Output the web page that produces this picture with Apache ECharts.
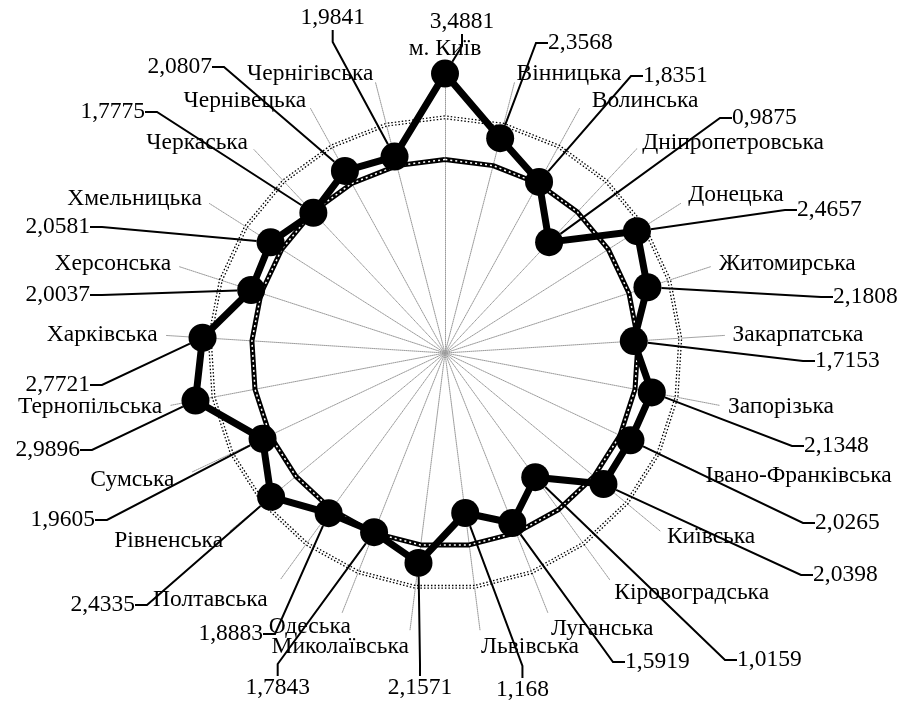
<!DOCTYPE html>
<html>
<head>
<meta charset="utf-8">
<script src="https://cdn.jsdelivr.net/npm/echarts@6/dist/echarts.min.js"></script>
<style>
  html, body { margin: 0; padding: 0; background: #fff; }
  #chart { width: 908px; height: 706px; }
</style>
</head>
<body>
<div id="chart"></div>
<script>
// regions, clockwise from the top
var regions = ['м. Київ', 'Вінницька', 'Волинська', 'Дніпропетровська', 'Донецька',
  'Житомирська', 'Закарпатська', 'Запорізька', 'Івано-Франківська', 'Київська',
  'Кіровоградська', 'Луганська', 'Львівська', 'Миколаївська', 'Одеська',
  'Полтавська', 'Рівненська', 'Сумська', 'Тернопільська', 'Харківська',
  'Херсонська', 'Хмельницька', 'Черкаська', 'Чернівецька', 'Чернігівська'];
var values = [3.4881, 2.3568, 1.8351, 0.9875, 2.4657,
  2.1808, 1.7153, 2.1348, 2.0265, 2.0398,
  1.0159, 1.5919, 1.168, 2.1571, 1.7843,
  1.8883, 2.4335, 1.9605, 2.9896, 2.7721,
  2.0037, 2.0581, 1.7775, 2.0807, 1.9841];
var innerLevel = 1.8;   // thick dotted ring
var outerLevel = 2.63;  // thin dotted ring
var axisMin = -2, axisMax = 3.5;

// where each value label sits: [x, y, align]
var labelPos = [
  [462, 22, 'center'], [543, 43, 'left'], [638, 76, 'left'], [727, 118, 'left'], [792, 210, 'left'],
  [828, 297, 'left'], [810, 361, 'left'], [799, 446, 'left'], [810, 523, 'left'], [808, 575, 'left'],
  [732, 660, 'left'], [620, 662, 'left'], [491, 690, 'left'], [420, 688, 'center'], [315, 688, 'right'],
  [268, 634, 'right'], [140, 605, 'right'], [100, 520, 'right'], [85, 450, 'right'], [95, 385, 'right'],
  [95, 295, 'right'], [95, 227, 'right'], [150, 112, 'right'], [217, 67, 'right'], [370, 18, 'right']
];
// small nudges of the region names: [dx, dy]
var nameShift = [
  [0, -4], [0, 0], [8, 0], [0, 0], [0, -4],
  [0, 0], [0, 0], [0, 0], [0, 0], [0, 0],
  [0, 7], [0, 8], [0, 8], [0, 8], [12, 6],
  [-8, 14], [0, 4], [-10, 4], [0, 0], [0, 0],
  [0, 0], [0, 0], [0, 0], [0, 0], [0, 0]
];

var font = '"Liberation Serif", "Times New Roman", serif';
var fontSize = 23.5;
function fmt(v) { return String(v).replace('.', ','); }
var valueText = values.map(fmt);

// echarts radar runs counter-clockwise, so feed it the reversed order
var order = [0];
for (var k = regions.length - 1; k > 0; k--) order.push(k);
function pick(arr) { return order.map(function (i) { return arr[i]; }); }
function level(v) { return regions.map(function () { return v; }); }

// one rich style per region name, padding does the nudging
var nameRich = {};
regions.forEach(function (n, i) {
  var dx = nameShift[i][0], dy = nameShift[i][1];
  var pad = [0, 0, 0, 0];
  if (i === 0) {
    if (dy < 0) pad[2] = -dy; else pad[0] = dy;
  } else {
    if (i <= 12) pad[3] = dx; else pad[1] = -dx;
    if (dy > 0) pad[0] = 2 * dy; else pad[2] = -2 * dy;
  }
  nameRich['n' + i] = { color: '#000', fontFamily: font, fontSize: fontSize, padding: pad };
});

var chart = echarts.init(document.getElementById('chart'));
var option = {
  animation: false,
  backgroundColor: '#fff',
  radar: {
    center: [445, 353],
    radius: 280,
    startAngle: 90,
    shape: 'polygon',
    splitNumber: 1,
    nameGap: 8,
    indicator: pick(regions).map(function (n) { return { name: n, min: axisMin, max: axisMax }; }),
    axisName: {
      color: '#000', fontFamily: font, fontSize: fontSize,
      formatter: function (name) { return '{n' + regions.indexOf(name) + '|' + name + '}'; },
      rich: nameRich
    },
    axisLine: { lineStyle: { color: '#9a9a9a', type: 'dotted', width: 1 } },
    splitLine: { show: false },
    splitArea: { show: false }
  },
  series: [
    {
      type: 'radar', silent: true, symbol: 'none', z: 2,
      data: [{ value: level(outerLevel), lineStyle: { color: '#000', width: 4, type: [1.5, 2] } }]
    },
    {
      type: 'radar', silent: true, symbol: 'none', z: 3,
      data: [{ value: level(outerLevel), lineStyle: { color: '#fff', width: 1.4 } }]
    },
    {
      type: 'radar', silent: true, symbol: 'none', z: 4,
      data: [{ value: level(innerLevel), lineStyle: { color: '#000', width: 5 } }]
    },
    {
      type: 'radar', silent: true, symbol: 'none', z: 5,
      data: [{ value: level(innerLevel), lineStyle: { color: '#fff', width: 1.5, type: [2, 3] } }]
    },
    {
      type: 'radar', silent: true, z: 6,
      symbol: 'circle',
      symbolSize: 28,
      itemStyle: { color: '#000' },
      lineStyle: { color: '#000', width: 7 },
      label: {
        show: true,
        color: '#000',
        fontFamily: font,
        fontSize: fontSize,
        padding: [0, 5],
        formatter: function (p) { return fmt(p.value); }
      },
      labelLine: { show: true, length2: 12, lineStyle: { color: '#000', width: 2 } },
      labelLayout: function (p) {
        var i = valueText.indexOf(p.text);
        if (i < 0) return {};
        var pos = labelPos[i];
        return { x: pos[0], y: pos[1], align: pos[2], verticalAlign: 'middle' };
      },
      data: [{ value: pick(values) }]
    }
  ]
};
chart.setOption(option);
</script>
</body>
</html>
